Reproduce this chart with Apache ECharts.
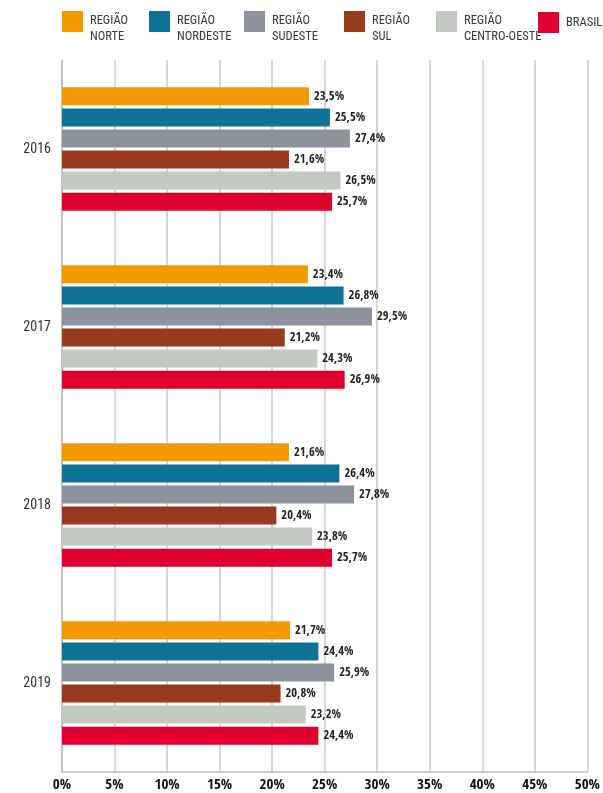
<!DOCTYPE html>
<html><head><meta charset="utf-8">
<script src="https://cdn.jsdelivr.net/npm/echarts@6/dist/echarts.min.js"></script>
<style>html,body{margin:0;padding:0;background:#fff;}#c{width:603px;height:793px;}</style>
</head><body><div id="c"></div>
<script>
const years = ['2016', '2017', '2018', '2019'];
const seriesNames = ['REGIÃO\nNORTE', 'REGIÃO\nNORDESTE', 'REGIÃO\nSUDESTE', 'REGIÃO\nSUL', 'REGIÃO\nCENTRO-OESTE', 'BRASIL'];
const norte = [23.5, 23.4, 21.6, 21.7];
const nordeste = [25.5, 26.8, 26.4, 24.4];
const sudeste = [27.4, 29.5, 27.8, 25.9];
const sul = [21.6, 21.2, 20.4, 20.8];
const centroOeste = [26.5, 24.3, 23.8, 23.2];
const brasil = [25.7, 26.9, 25.7, 24.4];
const colors = ['#F39A00', '#0E7396', '#8E929F', '#983A1E', '#C3C8C3', '#E0002E'];
const legendLefts = [62, 149, 244, 344, 436, 538];

const BOLD = "'Open Sans Condensed', 'Roboto Condensed', sans-serif";
const REG = "'Roboto Condensed', sans-serif";
const allData = [norte, nordeste, sudeste, sul, centroOeste, brasil];

const chart = echarts.init(document.getElementById('c'));
chart.setOption({
  animation: false,
  textStyle: { fontFamily: REG },
  legend: seriesNames.map((n, i) => {
    const two = n.indexOf('\n') >= 0;
    return {
      data: [n], left: legendLefts[i], top: 12 - (two ? 11.5 : 0), icon: 'rect', padding: 0,
      itemWidth: 21, itemHeight: 21, itemGap: 0,
      formatter: name => two
        ? '{s| }\n' + name.split('\n').map(t => '{a|' + t + '}').join('\n')
        : '{a|' + name + '}',
      textStyle: {
        fontFamily: REG, fontSize: 12.5, color: '#3a3a3a', padding: [0, 0, 0, 2],
        rich: {
          s: { fontSize: 10, lineHeight: 14, fontFamily: REG },
          a: { fontFamily: REG, fontSize: 12.5, color: '#3a3a3a', lineHeight: 16 }
        }
      },
      selectedMode: false
    };
  }),
  grid: { left: 62, right: 14, top: 60, bottom: 20 },
  xAxis: {
    type: 'value', min: 0, max: 50, interval: 5,
    axisLabel: { formatter: v => v + '%', fontFamily: BOLD, fontSize: 15, fontWeight: 'bold', color: '#111', margin: 6 },
    splitLine: { show: true, lineStyle: { color: '#c8c8c8', width: 1.5 } },
    axisLine: { show: true, lineStyle: { color: '#bdbdbd', width: 1.5 } },
    axisTick: { show: false }
  },
  yAxis: {
    type: 'category', data: years, inverse: true,
    axisLabel: { fontFamily: REG, fontSize: 14, color: '#333', margin: 11 },
    axisLine: { show: true, lineStyle: { color: '#bdbdbd', width: 1.5 } },
    axisTick: { show: false }
  },
  series: seriesNames.map((n, i) => ({
    name: n, type: 'bar', data: allData[i],
    barWidth: 18, barGap: '17%',
    itemStyle: { color: colors[i] },
    label: {
      show: true, position: 'right', distance: 5,
      formatter: p => p.value.toFixed(1).replace('.', ',') + '%',
      fontFamily: BOLD, fontSize: 12.5, fontWeight: 'bold', color: '#222'
    }
  }))
});
</script></body></html>
